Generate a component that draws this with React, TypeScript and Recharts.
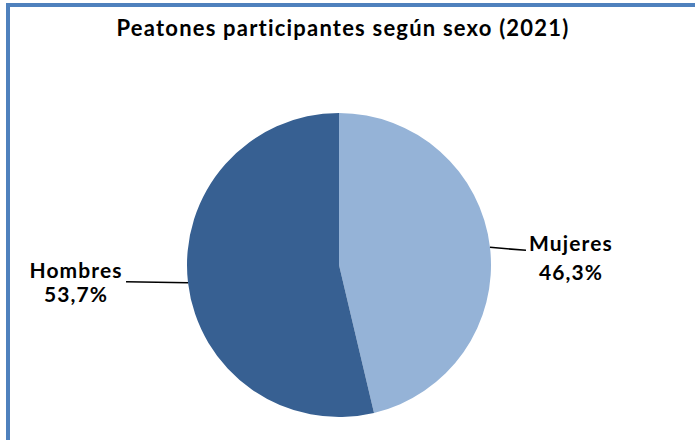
import { Cell, Pie, PieChart } from "recharts";

const categories = ["Mujeres", "Hombres"];
const shares = [46.3, 53.7];
const colors = ["#95B3D7", "#376092"];

const data = categories.map((name, i) => ({ name, value: shares[i] }));

const fmt = (v: number) => `${v.toFixed(1).replace(".", ",")}%`;

// label placement relative to the slice edge point
const labelOffsets = [
    { line: 36, lineDy: 3, text: 81, dy1: 4, dy2: 33 },
    { line: -62, lineDy: -1, text: -112, dy1: -5, dy2: 19 },
];

const RAD = Math.PI / 180;
const font = { fontFamily: "Lato", fontWeight: 700, fontSize: 21, letterSpacing: 1.1 };

function edgePoint(props: any) {
    const { cx, cy, midAngle, outerRadius } = props;
    return {
        x: cx + outerRadius * Math.cos(-midAngle * RAD),
        y: cy + outerRadius * Math.sin(-midAngle * RAD),
    };
}

function renderLabel(props: any) {
    const { index } = props;
    const p = edgePoint(props);
    const o = labelOffsets[index];
    const x = p.x + o.text;
    return (
        <g>
            <text x={x} y={p.y + o.dy1} textAnchor="middle" fill="#000" style={font}>
                {categories[index]}
            </text>
            <text x={x} y={p.y + o.dy2} textAnchor="middle" fill="#000" style={font}>
                {fmt(shares[index])}
            </text>
        </g>
    );
}

function renderLine(props: any) {
    const { index } = props;
    const p = edgePoint(props);
    const o = labelOffsets[index];
    return <path d={`M${p.x},${p.y}L${p.x + o.line},${p.y + o.lineDy}`} stroke="#000" strokeWidth={1.5} fill="none" />;
}

function App() {
    return (
        <div style={{ position: "absolute", left: 0, top: 0, width: 695, height: 440, background: "#fff" }}>
            <div style={{ position: "absolute", left: 6, top: 3, width: 689, height: 437, borderTop: "4px solid #4F81BD", borderLeft: "4px solid #4F81BD" }} />
            <div style={{ position: "absolute", left: 0, top: 14, width: 686, textAlign: "center", fontFamily: "Lato", fontWeight: 700, fontSize: 22, letterSpacing: 1.2, color: "#000" }}>
                Peatones participantes según sexo (2021)
            </div>
            <PieChart width={695} height={440} margin={{ top: 0, right: 0, bottom: 0, left: 0 }} style={{ position: "absolute", left: 0, top: 0 }}>
                <Pie data={data} dataKey="value" nameKey="name" cx={339} cy={265} outerRadius={152}
                    startAngle={90} endAngle={-270} stroke="none" isAnimationActive={false}
                    label={renderLabel} labelLine={renderLine}>
                    {data.map((d, i) => <Cell key={d.name} fill={colors[i]} />)}
                </Pie>
            </PieChart>
        </div>
    );
}

export default App;
